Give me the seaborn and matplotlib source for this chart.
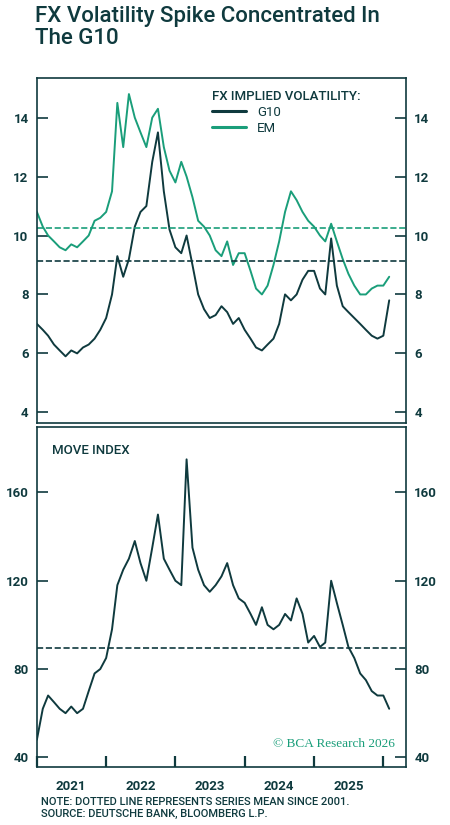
import matplotlib
matplotlib.use("Agg")
import matplotlib.pyplot as plt
import seaborn as sns
import pandas as pd

sns.set_theme(style="white")
plt.rcParams['font.family'] = ['Roboto', 'DejaVu Sans']

dates = pd.date_range("2021-01-01", periods=62, freq="MS")
g10 = [7.0,6.8,6.6,6.3,6.1,5.9,6.1,6.0,6.2,6.3,6.5,6.8,
       7.2,8.0,9.3,8.6,9.2,10.3,10.8,11.0,12.5,13.5,11.5,10.2,
       9.6,9.4,10.0,9.0,8.0,7.5,7.2,7.3,7.6,7.4,7.0,7.2,
       6.8,6.5,6.2,6.1,6.3,6.5,7.0,8.0,7.8,8.0,8.5,8.8,
       8.8,8.2,8.0,9.9,8.3,7.6,7.4,7.2,7.0,6.8,6.6,6.5,
       6.6,7.8]
em = [10.8,10.3,10.0,9.8,9.6,9.5,9.7,9.6,9.8,10.0,10.5,10.6,
      10.8,11.5,14.5,13.0,14.8,14.0,13.5,13.0,14.0,14.3,13.0,12.2,
      11.8,12.5,12.0,11.3,10.5,10.3,10.0,9.5,9.3,9.8,9.0,9.4,
      9.4,8.8,8.2,8.0,8.3,9.0,9.8,10.8,11.5,11.2,10.8,10.5,
      10.3,10.0,9.8,10.4,9.8,9.2,8.7,8.3,8.0,8.0,8.2,8.3,
      8.3,8.6]
move = [48,62,68,65,62,60,63,60,62,70,78,80,
        85,98,118,125,130,138,128,120,135,150,130,125,
        120,118,175,135,125,118,115,118,122,128,118,112,
        110,105,100,108,100,98,100,105,102,112,105,92,
        95,90,92,120,110,100,90,85,78,75,70,68,
        68,62]
g10_mean, em_mean, move_mean = 9.15, 10.25, 89.5
years = ["2021", "2022", "2023", "2024", "2025"]

dark = "#0f3a3e"
green = "#1a9e7a"
df = pd.DataFrame({"date": dates, "G10": g10, "EM": em, "MOVE": move})

fig = plt.figure(figsize=(4.5, 8.25), dpi=100)
ax1 = fig.add_axes([0.082, 0.487, 0.82, 0.419])
ax2 = fig.add_axes([0.082, 0.070, 0.82, 0.412])

sns.lineplot(data=df, x="date", y="G10", ax=ax1, color=dark, lw=1.4, label="G10")
sns.lineplot(data=df, x="date", y="EM", ax=ax1, color=green, lw=1.4, label="EM")
ax1.axhline(g10_mean, color=dark, ls="--", lw=1.2)
ax1.axhline(em_mean, color=green, ls="--", lw=1.2)
sns.lineplot(data=df, x="date", y="MOVE", ax=ax2, color=dark, lw=1.4, legend=False)
ax2.axhline(move_mean, color=dark, ls="--", lw=1.2)

xmin, xmax = pd.Timestamp("2021-01-01"), pd.Timestamp("2026-04-30")
for ax in (ax1, ax2):
    ax.set_xlim(xmin, xmax)
    ax.set_xlabel(""); ax.set_ylabel("")
    for s in ax.spines.values():
        s.set_color(dark); s.set_linewidth(1.2)
    ax.tick_params(axis="y", which="both", direction="in", length=8, color=dark,
                   labelcolor=dark, labelsize=9.5, left=True, right=True,
                   labelleft=True, labelright=True, width=1.2, pad=6)
ax1.set_ylim(3.63, 15.36)
ax1.set_yticks([4, 6, 8, 10, 12, 14])
ax2.set_ylim(35.5, 189.5)
ax2.set_yticks([40, 80, 120, 160])
for ax in (ax1, ax2):
    for lab in ax.get_yticklabels():
        lab.set_fontweight("bold")

ax1.set_xticks([])
ticks = pd.date_range("2021-01-01", "2026-01-01", freq="YS")
ax2.set_xticks(ticks)
ax2.set_xticklabels([])
ax2.tick_params(axis="x", direction="in", length=8, width=1.6, color=dark, bottom=True)
mids = [pd.Timestamp(f"{y}-07-01") for y in years]
ax2.set_xticks(mids, minor=True)
ax2.set_xticklabels(years, minor=True)
ax2.tick_params(axis="x", which="minor", length=0, labelsize=9.5, labelcolor=dark, pad=9)
for lab in ax2.get_xticklabels(minor=True):
    lab.set_fontweight("bold")

leg = ax1.legend(loc="upper left", bbox_to_anchor=(0.45, 0.99), frameon=False,
                 title="FX IMPLIED VOLATILITY:", fontsize=9.5, handlelength=2.6,
                 labelspacing=0.2, borderaxespad=0.3)
leg.get_title().set_color(dark); leg.get_title().set_fontsize(9.5)
leg.get_title().set_fontweight("medium")
leg._legend_box.align = "left"
for t in leg.get_texts():
    t.set_color(dark)
for l in leg.get_lines():
    l.set_linewidth(2.2)

ax2.text(0.04, 0.95, "MOVE INDEX", transform=ax2.transAxes, fontsize=9.5,
         color=dark, va="top", fontweight="medium")
ax2.text(0.97, 0.05, "© BCA Research 2026", transform=ax2.transAxes, fontsize=9.5,
         color=green, ha="right", va="bottom", family=["Liberation Serif", "DejaVu Serif"])

fig.text(0.078, 0.993, "FX Volatility Spike Concentrated In\nThe G10", fontsize=16,
         color=dark, va="top", ha="left", linespacing=1.1, fontweight="medium")
fig.text(0.092, 0.021, "NOTE: DOTTED LINE REPRESENTS SERIES MEAN SINCE 2001.\nSOURCE: DEUTSCHE BANK, BLOOMBERG L.P.",
         fontsize=8, color=dark, va="center", ha="left", fontweight="medium", linespacing=1.25)

fig.savefig("out.png", dpi=100)
